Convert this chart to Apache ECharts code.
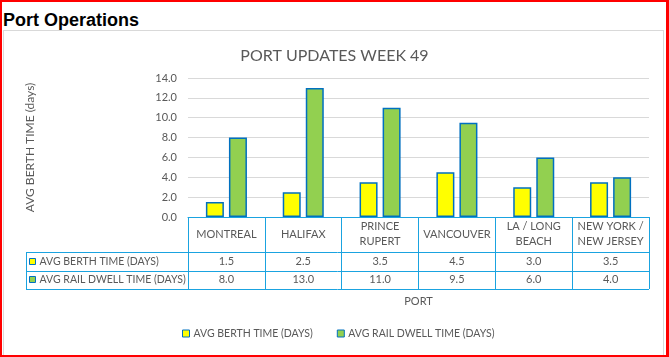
<!DOCTYPE html>
<html><head><meta charset="utf-8">
<script src="https://cdn.jsdelivr.net/npm/echarts@6/dist/echarts.min.js"></script>
<style>
html,body{margin:0;padding:0;background:#fff;}
#wrap{position:relative;width:669px;height:357px;box-sizing:border-box;border:2px solid #ff0000;border-right-width:3px;overflow:hidden;}
#hdr{position:absolute;left:1px;top:8px;font:bold 18px "Liberation Sans",Arial,sans-serif;color:#000;}
#box{position:absolute;left:1px;top:28px;width:661px;height:330px;border:1px solid #d9d9d9;box-sizing:border-box;}
</style></head>
<body>
<div id="wrap"><div id="hdr">Port Operations</div><div id="box"></div></div>
<div id="chart" style="position:absolute;left:0;top:0;width:669px;height:357px;"></div>
<script>
const categories = ['MONTREAL', 'HALIFAX', 'PRINCE\nRUPERT', 'VANCOUVER', 'LA / LONG\nBEACH', 'NEW YORK /\nNEW JERSEY'];
const berthTime = [1.5, 2.5, 3.5, 4.5, 3.0, 3.5];
const railDwell = [8.0, 13.0, 11.0, 9.5, 6.0, 4.0];
const seriesNames = ['AVG BERTH TIME (DAYS)', 'AVG RAIL DWELL TIME (DAYS)'];
const seriesColors = ['#FFFF00', '#92D050'];
const yTicks = {min: 0, max: 14, interval: 2};

const FONT = 'Lato';
const FS = 11;
const FS2 = 10.5;
const GREY = '#595959';
const BLUE = '#1AA3E0';
const chart = echarts.init(document.getElementById('chart'));
const option = {
  animation: false,
  textStyle: {fontFamily: FONT},
  title: {text: 'PORT UPDATES WEEK 49', left: 'center', top: 43, textStyle: {fontFamily: FONT, fontSize: 16, fontWeight: 'normal', color: GREY}},
  grid: {left: 188, right: 20, top: 78, bottom: 140},
  legend: {
    left: 182, top: 328, padding: 0, itemWidth: 7, itemHeight: 7, itemGap: 24,
    icon: 'rect',
    textStyle: {fontFamily: FONT, fontSize: FS2, color: GREY, padding: [0, 0, 0, -1]},
    data: seriesNames
  },
  xAxis: {
    type: 'category', data: categories,
    name: 'PORT', nameLocation: 'middle', nameGap: 79,
    nameTextStyle: {fontFamily: FONT, fontSize: FS, color: GREY},
    axisLine: {lineStyle: {color: BLUE, width: 1}},
    axisTick: {show: true, inside: false, length: 72, lineStyle: {color: BLUE}},
    axisLabel: {interval: 0, margin: 17, verticalAlign: 'middle', fontFamily: FONT, fontSize: FS, color: GREY, lineHeight: 15}
  },
  yAxis: {
    type: 'value', min: yTicks.min, max: yTicks.max, interval: yTicks.interval,
    name: 'AVG BERTH TIME (days)', nameLocation: 'middle', nameGap: 152,
    nameTextStyle: {fontFamily: FONT, fontSize: 12, color: GREY},
    axisLine: {show: false}, axisTick: {show: false},
    splitLine: {lineStyle: {color: '#D9D9D9'}},
    axisLabel: {margin: 11, fontFamily: FONT, fontSize: FS, color: GREY, formatter: v => v.toFixed(1)}
  },
  series: [
    {name: seriesNames[0], type: 'bar', data: berthTime, barWidth: 18, barGap: '28%',
     itemStyle: {color: seriesColors[0], borderColor: '#0070C0', borderWidth: 1.5}},
    {name: seriesNames[1], type: 'bar', data: railDwell, barWidth: 18,
     itemStyle: {color: seriesColors[1], borderColor: '#0070C0', borderWidth: 1.5}}
  ]
};
chart.setOption(option);

// data table built from the same arrays, positioned via the axis scales
const yAxisPx = chart.convertToPixel({yAxisIndex: 0}, 0);
const band = chart.convertToPixel({xAxisIndex: 0}, 1) - chart.convertToPixel({xAxisIndex: 0}, 0);
const xLeft = chart.convertToPixel({xAxisIndex: 0}, 0) - band / 2;
const xRight = xLeft + band * categories.length;
const rowTop = yAxisPx + 35, rowH = 18.5;
const tableLeft = 26;
const g = [];
const ln = (x1, y1, x2, y2) => ({type: 'line', shape: {x1, y1, x2, y2}, style: {stroke: BLUE, lineWidth: 1}, silent: true});
for (let r = 0; r <= 2; r++) {
  const y = Math.round(rowTop + r * rowH) + 0.5;
  g.push(ln(tableLeft, y, xRight, y));
}
g.push(ln(tableLeft + 0.5, Math.round(rowTop) + 0.5, tableLeft + 0.5, Math.round(rowTop + 2 * rowH) + 0.5));
const rows = [berthTime, railDwell];
rows.forEach((vals, r) => {
  const cy = rowTop + r * rowH + rowH / 2;
  g.push({type: 'rect', shape: {x: tableLeft + 3.5, y: Math.round(cy - 3.5) + 0.5, width: 6, height: 6},
          style: {fill: seriesColors[r], stroke: '#0070C0', lineWidth: 1}, silent: true});
  g.push({type: 'text', x: tableLeft + 13.5, y: cy, style: {text: seriesNames[r], fontFamily: FONT, fontSize: FS2, fill: GREY, verticalAlign: 'middle', align: 'left'}, silent: true});
  vals.forEach((v, i) => {
    g.push({type: 'text', x: chart.convertToPixel({xAxisIndex: 0}, i), y: cy,
            style: {text: v.toFixed(1), fontFamily: FONT, fontSize: FS, fill: GREY, verticalAlign: 'middle', align: 'center'}, silent: true});
  });
});
chart.setOption({graphic: {elements: g}, legend: {itemStyle: {borderColor: '#0070C0', borderWidth: 1}}});
</script>
</body></html>
